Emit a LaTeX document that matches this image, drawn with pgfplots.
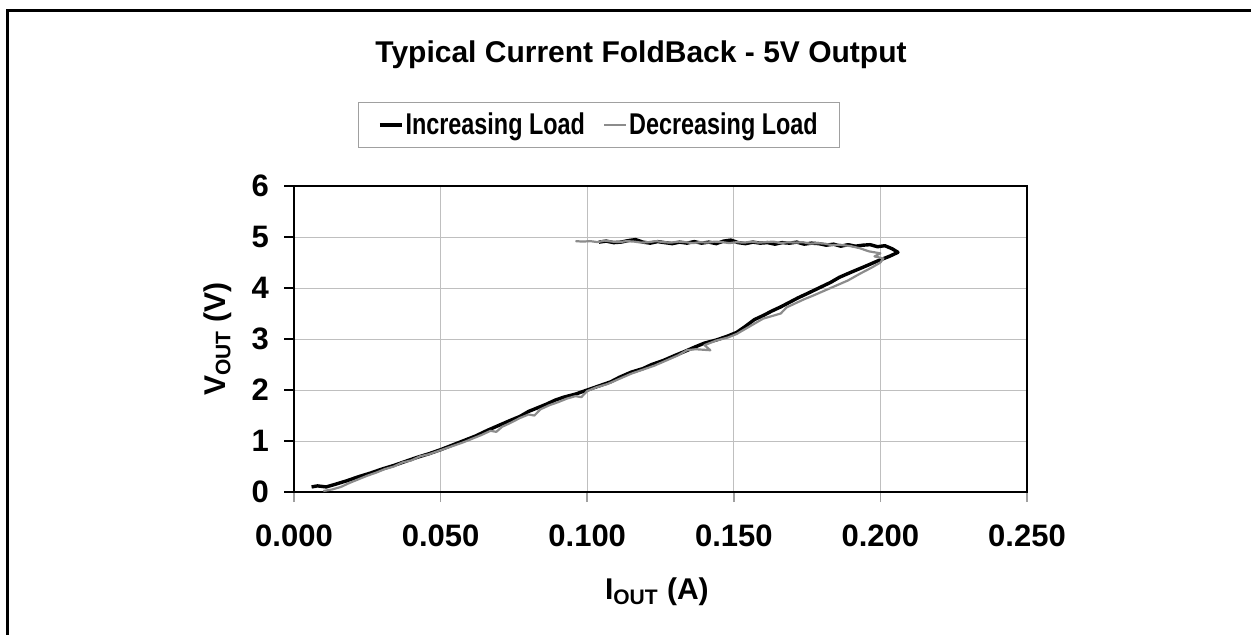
\documentclass[border=0pt]{standalone}
\usepackage{fontspec}
\setmainfont{Liberation Sans}
\usepackage{graphicx}
\usepackage{pgfplots}
\pgfplotsset{compat=1.18}
\definecolor{dgray}{RGB}{140,140,140}
\definecolor{grid}{RGB}{160,160,160}
\begin{document}
\begin{tikzpicture}
\useasboundingbox (0,0) rectangle (625.5pt,-317pt);
\draw[line width=1.5pt] (3.5pt,-5pt) rectangle (700pt,-400pt);
\node[font=\bfseries\fontsize{15}{18}\selectfont] at (320.5pt,-27.5pt) {Typical Current FoldBack - 5V Output};
\begin{axis}[
  at={(147pt,-246pt)}, anchor=south west,
  scale only axis, width=366.5pt, height=153pt,
  xmin=0, xmax=0.25, ymin=0, ymax=6,
  axis line style={line width=1.3pt},
  grid=major, major grid style={grid, line width=0.5pt},
  xtick={0,0.05,0.1,0.15,0.2,0.25},
  xticklabels={0.000,0.050,0.100,0.150,0.200,0.250},
  ytick={0,1,2,3,4,5,6},
  tick pos=left,
  tick align=outside, major tick length=5pt,
  xtick style={grid, line width=0.8pt},
  ytick style={black, line width=0.8pt},
  tick label style={font=\bfseries\fontsize{15.5}{18}\selectfont},
  /pgf/number format/assume math mode=true,
  xticklabel style={yshift=-8pt},
  yticklabel style={xshift=-4pt},
  xlabel={I\textsubscript{OUT} (A)},
  ylabel={V\textsubscript{OUT} (V)},
  label style={font=\bfseries\fontsize{15}{18}\selectfont},
  xlabel style={at={(axis description cs:0.495,-0.327)}, anchor=center},
  ylabel style={at={(axis description cs:-0.104,0.5)}, anchor=center},
  legend style={at={(0.416,1.199)}, anchor=center, draw=grid, line width=0.6pt,
    legend columns=2, font=\bfseries\fontsize{15}{18}\selectfont,
    inner xsep=10pt, inner ysep=3pt,
    nodes={inner xsep=1pt},
    /tikz/every even column/.append style={column sep=8pt}},
  legend image code/.code={\draw[#1] (0pt,0pt) -- (11pt,0pt);},
]
\addplot[black, line width=1.7pt, line join=round] coordinates {
(0.104,4.90)(0.1065,4.92)(0.109,4.89)(0.1115,4.90)(0.114,4.93)(0.1165,4.95)(0.119,4.90)(0.1215,4.88)
(0.124,4.91)(0.1265,4.89)(0.129,4.87)(0.1315,4.90)(0.134,4.88)(0.1365,4.91)(0.139,4.88)(0.1415,4.90)
(0.144,4.87)(0.1465,4.92)(0.149,4.94)(0.1515,4.89)(0.154,4.87)(0.1565,4.90)(0.159,4.88)(0.1615,4.89)
(0.164,4.86)(0.1665,4.89)(0.169,4.88)(0.1715,4.90)(0.174,4.86)(0.1765,4.88)(0.179,4.87)(0.1815,4.84)
(0.184,4.86)(0.1865,4.82)(0.189,4.85)(0.1915,4.82)(0.194,4.84)(0.1965,4.85)(0.199,4.81)(0.2015,4.83)
(0.204,4.77)(0.206,4.70)(0.203,4.62)(0.199,4.53)(0.195,4.43)(0.190,4.31)
(0.186,4.21)(0.183,4.11)(0.179,4.00)(0.175,3.89)(0.172,3.81)(0.169,3.72)(0.166,3.63)(0.163,3.55)
(0.160,3.46)(0.157,3.38)(0.154,3.25)(0.151,3.13)(0.148,3.06)(0.144,2.98)(0.140,2.92)(0.137,2.85)
(0.133,2.75)(0.130,2.68)(0.126,2.58)(0.122,2.50)(0.119,2.42)(0.115,2.35)(0.111,2.25)(0.108,2.16)
(0.104,2.08)(0.100,2.00)(0.096,1.92)(0.092,1.86)(0.089,1.80)(0.086,1.72)(0.083,1.65)(0.080,1.58)
(0.077,1.48)(0.074,1.41)(0.070,1.31)(0.066,1.21)(0.062,1.10)(0.058,1.01)(0.054,0.92)(0.050,0.83)
(0.046,0.75)(0.042,0.68)(0.038,0.60)(0.034,0.52)(0.030,0.45)(0.026,0.37)(0.022,0.30)(0.018,0.22)
(0.014,0.15)(0.011,0.10)(0.008,0.12)(0.006,0.10)
};
\addlegendentry{\scalebox{0.78}[1]{Increasing Load}}
\addplot[dgray, line width=1.1pt, line join=round] coordinates {
(0.010,0.02)(0.013,0.05)(0.016,0.10)(0.019,0.18)(0.022,0.25)(0.025,0.32)(0.028,0.38)(0.031,0.45)
(0.034,0.50)(0.037,0.58)(0.040,0.62)(0.043,0.70)(0.046,0.74)(0.049,0.80)(0.052,0.86)(0.055,0.92)
(0.058,0.98)(0.061,1.05)(0.064,1.12)(0.067,1.20)(0.069,1.18)(0.071,1.28)(0.074,1.36)(0.077,1.45)
(0.080,1.52)(0.082,1.50)(0.084,1.62)(0.087,1.70)(0.090,1.76)(0.093,1.83)(0.096,1.88)(0.098,1.86)
(0.100,1.98)(0.103,2.05)(0.107,2.12)(0.111,2.22)(0.115,2.32)(0.119,2.40)(0.123,2.48)(0.127,2.58)
(0.131,2.68)(0.134,2.78)(0.137,2.80)(0.142,2.78)(0.140,2.88)(0.144,2.97)(0.148,3.03)(0.151,3.10)
(0.154,3.20)(0.157,3.30)(0.160,3.40)(0.163,3.45)(0.166,3.50)(0.168,3.62)(0.171,3.70)(0.174,3.78)
(0.177,3.85)(0.181,3.95)(0.185,4.05)(0.189,4.15)(0.193,4.28)(0.197,4.40)(0.200,4.50)(0.201,4.58)
(0.198,4.62)(0.200,4.68)(0.196,4.72)(0.193,4.78)(0.190,4.82)(0.186,4.85)(0.1835,4.84)(0.181,4.87)
(0.1785,4.88)(0.176,4.87)(0.1735,4.90)(0.171,4.89)(0.1685,4.90)(0.166,4.88)(0.1635,4.91)(0.161,4.90)
(0.1585,4.89)(0.156,4.91)(0.1535,4.89)(0.151,4.90)(0.1485,4.88)(0.146,4.90)(0.1435,4.91)(0.141,4.89)
(0.1385,4.90)(0.136,4.88)(0.1335,4.90)(0.131,4.91)(0.1285,4.89)(0.126,4.90)(0.1235,4.92)(0.121,4.90)
(0.1185,4.89)(0.116,4.91)(0.1135,4.92)(0.111,4.90)(0.1085,4.91)(0.106,4.93)(0.1035,4.90)(0.101,4.92)
(0.0985,4.91)(0.096,4.92)
};
\addlegendentry{\scalebox{0.78}[1]{Decreasing Load}}
\end{axis}
\end{tikzpicture}
\end{document}
